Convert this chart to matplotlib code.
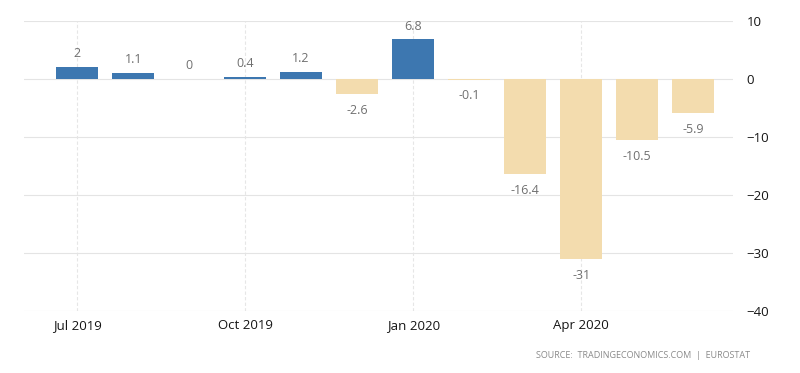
import numpy as np
import matplotlib
matplotlib.use("Agg")
import matplotlib.pyplot as plt

months = ["Jul 2019", "Aug 2019", "Sep 2019", "Oct 2019", "Nov 2019", "Dec 2019",
          "Jan 2020", "Feb 2020", "Mar 2020", "Apr 2020", "May 2020", "Jun 2020"]
values = [2, 1.1, 0, 0.4, 1.2, -2.6, 6.8, -0.1, -16.4, -31, -10.5, -5.9]
labels = ["2", "1.1", "0", "0.4", "1.2", "-2.6", "6.8", "-0.1", "-16.4", "-31", "-10.5", "-5.9"]
tick_idx = [0, 3, 6, 9]
y_ticks = [10, 0, -10, -20, -30, -40]

plt.rcParams['font.family'] = ['Open Sans', 'DejaVu Sans']

fig = plt.figure(figsize=(8, 3.73), dpi=100)
ax = fig.add_axes([0.03, 0.166, 0.886, 0.778])

x = np.arange(len(values))
colors = ['#3d77b0' if v > 0 else '#f3dcae' for v in values]
ax.bar(x, values, width=0.75, color=colors, zorder=2)

# value labels: above for >= 0, below for negatives
for xi, v, lab in zip(x, values, labels):
    if v >= 0:
        ax.annotate(lab, (xi, v), xytext=(0, 5), textcoords='offset points',
                    ha='center', va='bottom', fontsize=9, color='#707070')
    else:
        ax.annotate(lab, (xi, v), xytext=(0, -7), textcoords='offset points',
                    ha='center', va='top', fontsize=9, color='#707070')

ax.set_xlim(-0.95, 11.71)
ax.set_ylim(-40, 10)
ax.set_xticks(tick_idx)
ax.set_xticklabels([months[i] for i in tick_idx])
ax.set_yticks(y_ticks)

ax.yaxis.tick_right()
ax.tick_params(axis='both', length=0, labelsize=9.5, colors='#151515')
ax.tick_params(axis='x', pad=6)
ax.tick_params(axis='y', pad=10)
for lab in ax.get_yticklabels() + ax.get_xticklabels():
    lab.set_fontweight('medium')
for lab in ax.get_yticklabels():
    lab.set_horizontalalignment('left')

ax.grid(axis='y', color='#e4e4e4', linewidth=0.8, zorder=0)
ax.grid(axis='x', color='#e6e6e6', linewidth=0.8, linestyle=(0, (3, 2)), zorder=0)
for s in ax.spines.values():
    s.set_visible(False)

fig.text(0.9375, 0.048, "SOURCE:  TRADINGECONOMICS.COM  |  EUROSTAT",
         ha='right', va='center', fontsize=6.5, color='#8a8a8a')

fig.savefig("out.png", dpi=100, facecolor='white')
